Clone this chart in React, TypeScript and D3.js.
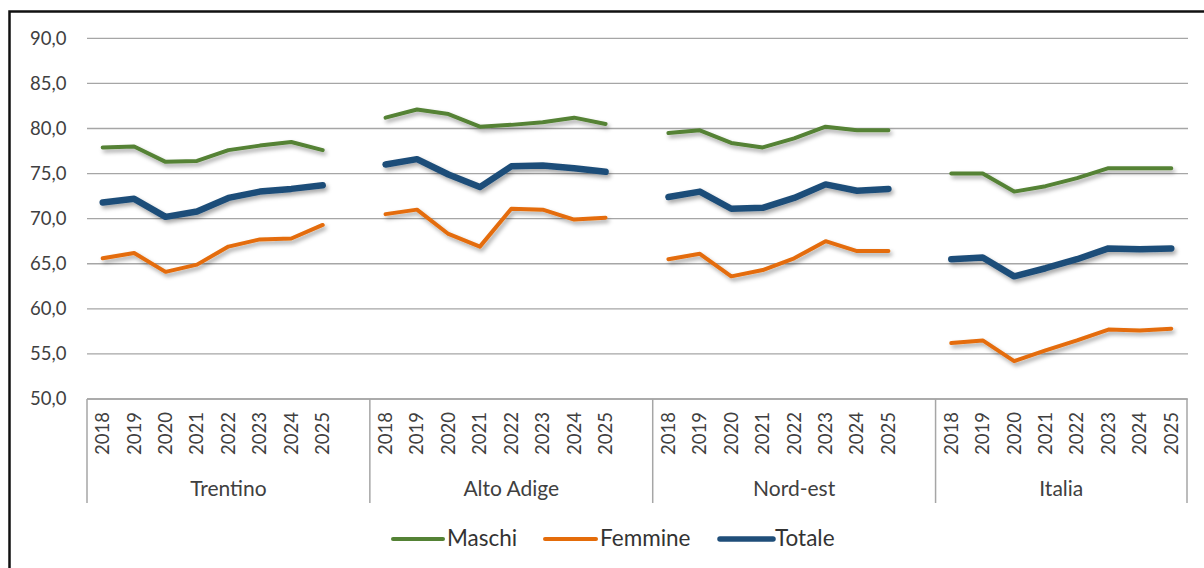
import React from "react";
import * as d3 from "d3";

const groups = ["Trentino", "Alto Adige", "Nord-est", "Italia"];
const years = ["2018", "2019", "2020", "2021", "2022", "2023", "2024", "2025"];
const yTicks = [50, 55, 60, 65, 70, 75, 80, 85, 90];

// values in group order: Trentino, Alto Adige, Nord-est, Italia (8 years each)
const maschi = [
  77.9, 78.0, 76.3, 76.4, 77.6, 78.1, 78.5, 77.6,
  81.2, 82.1, 81.6, 80.2, 80.4, 80.7, 81.2, 80.5,
  79.5, 79.8, 78.4, 77.9, 78.9, 80.2, 79.8, 79.8,
  75.0, 75.0, 73.0, 73.6, 74.5, 75.6, 75.6, 75.6,
];
const femmine = [
  65.6, 66.2, 64.1, 64.9, 66.9, 67.7, 67.8, 69.3,
  70.5, 71.0, 68.3, 66.9, 71.1, 71.0, 69.9, 70.1,
  65.5, 66.1, 63.6, 64.3, 65.6, 67.5, 66.4, 66.4,
  56.2, 56.5, 54.2, 55.4, 56.5, 57.7, 57.6, 57.8,
];
const totale = [
  71.8, 72.2, 70.2, 70.8, 72.3, 73.0, 73.3, 73.7,
  76.0, 76.6, 74.9, 73.5, 75.8, 75.9, 75.6, 75.2,
  72.4, 73.0, 71.1, 71.2, 72.3, 73.8, 73.1, 73.3,
  65.5, 65.7, 63.6, 64.5, 65.5, 66.7, 66.6, 66.7,
];

const seriesNames = ["Maschi", "Femmine", "Totale"];
const seriesColors = ["#548235", "#E46C0A", "#1F4E79"];
const seriesWidths = [4, 4, 6.5];
const seriesData = [maschi, femmine, totale];

const FONT = "Lato, 'Open Sans', sans-serif";
const TEXT = "#404040";

export default function App() {
  const W = 1204, H = 568;
  const left = 87, right = 1187, top = 38.3, bottom = 399;

  // category domain: each group's years, plus a blank slot between groups
  const domain: string[] = [];
  groups.forEach((g, gi) => {
    years.forEach((yr) => domain.push(`${g}|${yr}`));
    if (gi < groups.length - 1) domain.push(`${g}|gap`);
  });
  const x = d3.scaleBand<string>().domain(domain).range([left, right]).padding(0);
  const y = d3.scaleLinear().domain([50, 90]).range([bottom, top]);
  const bw = x.bandwidth();

  const line = d3
    .line<[string, number]>()
    .x((d) => (x(d[0]) as number) + bw / 2)
    .y((d) => y(d[1]));

  const fmt = (v: number) => v.toFixed(1).replace(".", ",");

  // group boundaries
  const groupStart = groups.map((g) => x(`${g}|2018`) as number);
  const groupEnd = groups.map((g, gi) =>
    gi < groups.length - 1 ? (x(`${g}|gap`) as number) + bw : right
  );

  const legendItems = [
    { x1: 393, x2: 443, tx: 447 },
    { x1: 545, x2: 596, tx: 600 },
    { x1: 720, x2: 773, tx: 775 },
  ];

  return (
    <svg
      width={W}
      height={H}
      style={{ position: "absolute", left: 0, top: 0, background: "#fff" }}
      fontFamily={FONT}
    >
      <defs>
        <filter id="shadow" x="-10%" y="-30%" width="120%" height="160%">
          <feDropShadow dx="2" dy="3" stdDeviation="2" floodColor="#000" floodOpacity="0.35" />
        </filter>
      </defs>
      <rect x={0} y={0} width={W} height={H} fill="#fff" />
      {/* frame */}
      <rect x={9.5} y={11.5} width={1300} height={700} fill="none" stroke="#111" strokeWidth={2.5} />

      {/* gridlines */}
      {yTicks.map((t) => (
        <line
          key={t}
          x1={left}
          x2={right + 1}
          y1={y(t)}
          y2={y(t)}
          stroke="#A6A6A6"
          strokeWidth={1.3}
        />
      ))}
      {yTicks.map((t) => (
        <text
          key={"l" + t}
          x={66.5}
          y={y(t)}
          dy="0.35em"
          textAnchor="end"
          fontSize={18.5}
          fill={TEXT}
        >
          {fmt(t)}
        </text>
      ))}

      {/* category axis */}
      <line x1={left} x2={right} y1={bottom} y2={bottom} stroke="#A6A6A6" strokeWidth={1.5} />
      {[...groupStart, right].map((gx, i) => (
        <line key={"v" + i} x1={gx} x2={gx} y1={bottom} y2={503} stroke="#A6A6A6" strokeWidth={1.5} />
      ))}
      {domain
        .filter((d) => !d.endsWith("gap"))
        .map((d) => {
          const cx = (x(d) as number) + bw / 2;
          return (
            <text
              key={"t" + d}
              transform={`translate(${cx},412) rotate(-90)`}
              textAnchor="end"
              dy="0.35em"
              fontSize={18.5}
              fill={TEXT}
            >
              {d.split("|")[1]}
            </text>
          );
        })}
      {groups.map((g, gi) => (
        <text
          key={"g" + g}
          x={(groupStart[gi] + groupEnd[gi]) / 2}
          y={496}
          textAnchor="middle"
          fontSize={21}
          fill={TEXT}
        >
          {g}
        </text>
      ))}

      {/* series */}
      <g filter="url(#shadow)">
        {seriesData.map((vals, si) =>
          groups.map((g, gi) => {
            const pts: [string, number][] = years.map((yr, yi) => [
              `${g}|${yr}`,
              vals[gi * years.length + yi],
            ]);
            return (
              <path
                key={si + "-" + g}
                d={line(pts) as string}
                fill="none"
                stroke={seriesColors[si]}
                strokeWidth={seriesWidths[si]}
                strokeLinecap="round"
                strokeLinejoin="round"
              />
            );
          })
        )}
      </g>

      {/* legend */}
      {seriesNames.map((n, i) => (
        <g key={"lg" + n}>
          <line
            x1={legendItems[i].x1}
            x2={legendItems[i].x2}
            y1={539}
            y2={539}
            stroke={seriesColors[i]}
            strokeWidth={seriesWidths[i] === 4 ? 4 : 5.5}
            strokeLinecap="round"
          />
          <text x={legendItems[i].tx} y={546} fontSize={22.5} fill="#333">
            {n}
          </text>
        </g>
      ))}
    </svg>
  );
}
